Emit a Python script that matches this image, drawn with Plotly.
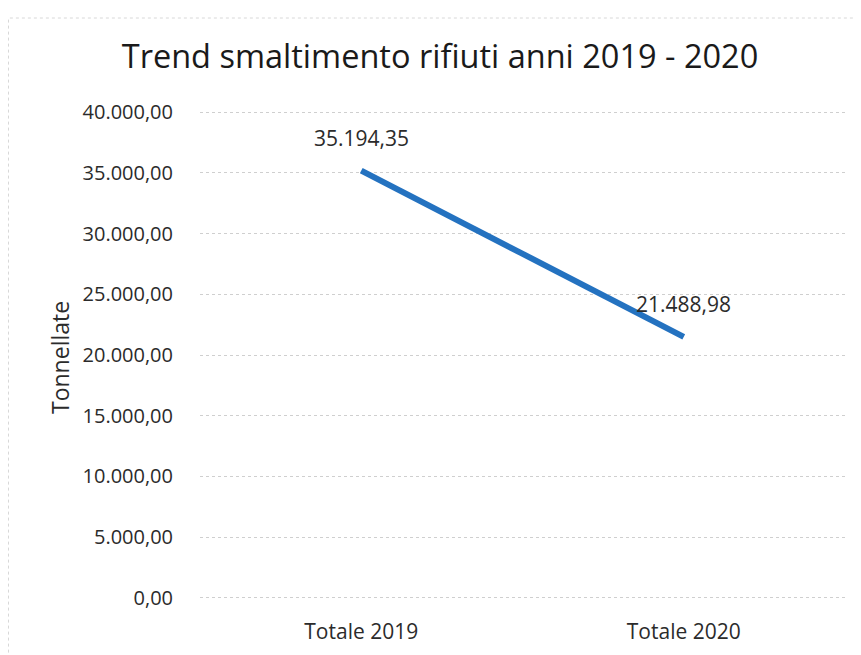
import plotly.graph_objects as go

categories = ["Totale 2019", "Totale 2020"]
values = [35194.35, 21488.98]
value_labels = ["35.194,35", "21.488,98"]
y_ticks = [0, 5000, 10000, 15000, 20000, 25000, 30000, 35000, 40000]

FONT = "Open Sans, Liberation Sans, sans-serif"
TXT = "#2b2b2b"

# plot area (figure coords): x 192..837, y 103..591
L, R, T, B = 192, 24, 103, 64
W, H = 861, 655
PW = W - L - R
PH = H - T - B

fig = go.Figure()
fig.add_trace(go.Scatter(
    x=categories, y=values, mode="lines",
    line=dict(color="#2472c0", width=6),
    hoverinfo="skip", showlegend=False,
))

for c, v, lab in zip(categories, values, value_labels):
    fig.add_annotation(x=c, y=v, text=lab, showarrow=False, yshift=33,
                       font=dict(family=FONT, size=21, color=TXT))

fig.add_annotation(xref="paper", yref="paper", x=(52 - L) / PW, y=(H - B - 350) / PH,
                   xanchor="center", yanchor="middle",
                   text="Tonnellate", textangle=-90, showarrow=False,
                   font=dict(family=FONT, size=23, color=TXT))

fig.update_layout(
    width=W, height=H,
    margin=dict(l=L, r=R, t=T, b=B),
    paper_bgcolor="white", plot_bgcolor="white",
    separators=",.",
    title=dict(text="Trend smaltimento rifiuti anni 2019 - 2020",
               x=432 / W, xanchor="center", y=1 - 49 / H, yanchor="middle",
               yref="container", font=dict(family=FONT, size=32.5, color="#1a1a1a")),
    xaxis=dict(type="category", range=[-0.5, 1.5], showgrid=False, zeroline=False,
               showline=False, ticks="", ticklabelstandoff=18,
               tickfont=dict(family=FONT, size=21, color=TXT)),
    yaxis=dict(range=[-100, 40100], tickvals=y_ticks, tickformat=",.2f",
               showgrid=True, gridcolor="#cfcfcf", griddash="dot", gridwidth=1,
               zeroline=False, showline=False, ticks="", ticklabelstandoff=26,
               tickfont=dict(family=FONT, size=20, color=TXT)),
    shapes=[dict(type="rect", xref="paper", yref="paper",
                 x0=(0.5 - L) / PW, x1=(W + 20 - L) / PW,
                 y0=-0.3, y1=(H - B - 10) / PH,
                 line=dict(color="#d8d8d8", width=1, dash="dot"), layer="below")],
)

fig.write_html("out.html")
